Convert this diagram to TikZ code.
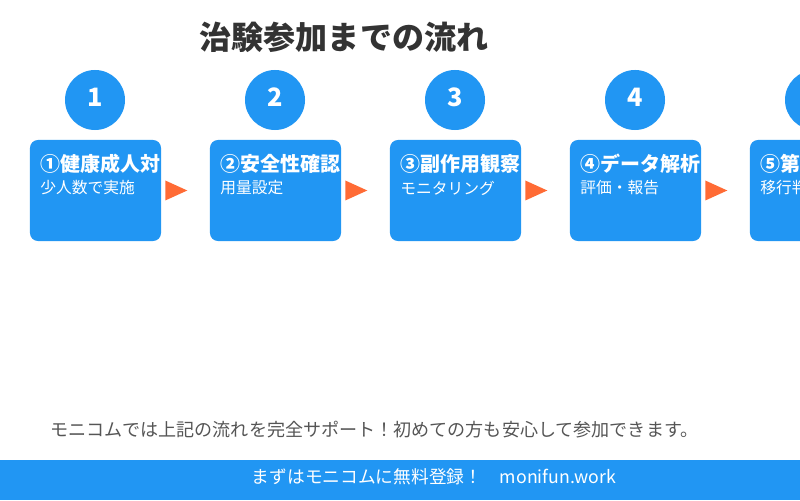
\documentclass[tikz,border=0pt]{standalone}
\usepackage{fontspec}
\setmainfont{Noto Sans CJK JP}
\usepackage{xcolor}
\usepackage{tikz}
\usetikzlibrary{calc}
\definecolor{flowblue}{HTML}{2196F3}
\definecolor{flowarrow}{HTML}{FF6B35}
\definecolor{titlegray}{HTML}{333333}
\definecolor{notegray}{HTML}{555555}

\begin{document}
\begin{tikzpicture}[x=0.025cm,y=0.025cm,
  stepnum/.style={circle,fill=flowblue,minimum size=1.5cm,inner sep=0pt,
                  text=white,font=\fontsize{18pt}{18pt}\selectfont\bfseries},
  stepbox/.style={fill=flowblue,rounded corners=0.2cm,minimum width=3.275cm,
                  minimum height=2.525cm,inner sep=0pt},
  boxhead/.style={anchor=west,inner sep=0pt,text=white,
                  font=\fontsize{14.2pt}{14.2pt}\selectfont\bfseries},
  boxsub/.style={anchor=west,inner sep=0pt,text=white,
                 font=\fontsize{11.2pt}{11.2pt}\selectfont},
  tri/.style={fill=flowarrow},
]
\useasboundingbox (0,0) rectangle (800,500);
\clip (0,0) rectangle (800,500);

\node[text=titlegray,font=\fontsize{22.8pt}{22.8pt}\selectfont\bfseries] (title) at (344,463) {治験参加までの流れ};

% step numbers
\node[stepnum] (n1) at (95,400) {\raisebox{0.15cm}{1}};
\node[stepnum] (n2) at (275,400) {\raisebox{0.15cm}{2}};
\node[stepnum] (n3) at (455,400) {\raisebox{0.15cm}{3}};
\node[stepnum] (n4) at (635,400) {\raisebox{0.15cm}{4}};
\node[stepnum] (n5) at (815,400) {\raisebox{0.15cm}{5}};

% step boxes
\node[stepbox] (s1) at (95.5,309.5) {};
\node[stepbox] (s2) at (275.5,309.5) {};
\node[stepbox] (s3) at (455.5,309.5) {};
\node[stepbox] (s4) at (635.5,309.5) {};
\node[stepbox] (s5) at (815.5,309.5) {};

\node[boxhead] (h1) at (40,336) {①健康成人対};
\node[boxsub] (t1) at (40,312) {少人数で実施};
\node[boxhead] (h2) at (220,336) {②安全性確認};
\node[boxsub] (t2) at (220,312) {用量設定};
\node[boxhead] (h3) at (400,336) {③副作用観察};
\node[boxsub] (t3) at (400,312) {モニタリング};
\node[boxhead] (h4) at (580,336) {④データ解析};
\node[boxsub] (t4) at (580,312) {評価・報告};
\node[boxhead] (h5) at (760,336) {⑤第};
\node[boxsub] (t5) at (760,312) {移行判};

% arrows between boxes
\fill[tri] ($(s1.east)+(4,-10)$) -- ($(s1.east)+(26,0)$) -- ($(s1.east)+(4,10)$) -- cycle;
\fill[tri] ($(s2.east)+(4,-10)$) -- ($(s2.east)+(26,0)$) -- ($(s2.east)+(4,10)$) -- cycle;
\fill[tri] ($(s3.east)+(4,-10)$) -- ($(s3.east)+(26,0)$) -- ($(s3.east)+(4,10)$) -- cycle;
\fill[tri] ($(s4.east)+(4,-10)$) -- ($(s4.east)+(26,0)$) -- ($(s4.east)+(4,10)$) -- cycle;

\node[anchor=west,inner sep=0pt,text=notegray,font=\fontsize{12.85pt}{12.85pt}\selectfont] (note) at (50,70)
  {モニコムでは上記の流れを完全サポート！初めての方も安心して参加できます。};

% footer
\fill[flowblue] (0,0) rectangle (800,40);
\node[text=white,font=\fontsize{12.6pt}{12.6pt}\selectfont] (foot) at (434,23)
  {まずはモニコムに無料登録！　monifun.work};
\end{tikzpicture}
\end{document}
